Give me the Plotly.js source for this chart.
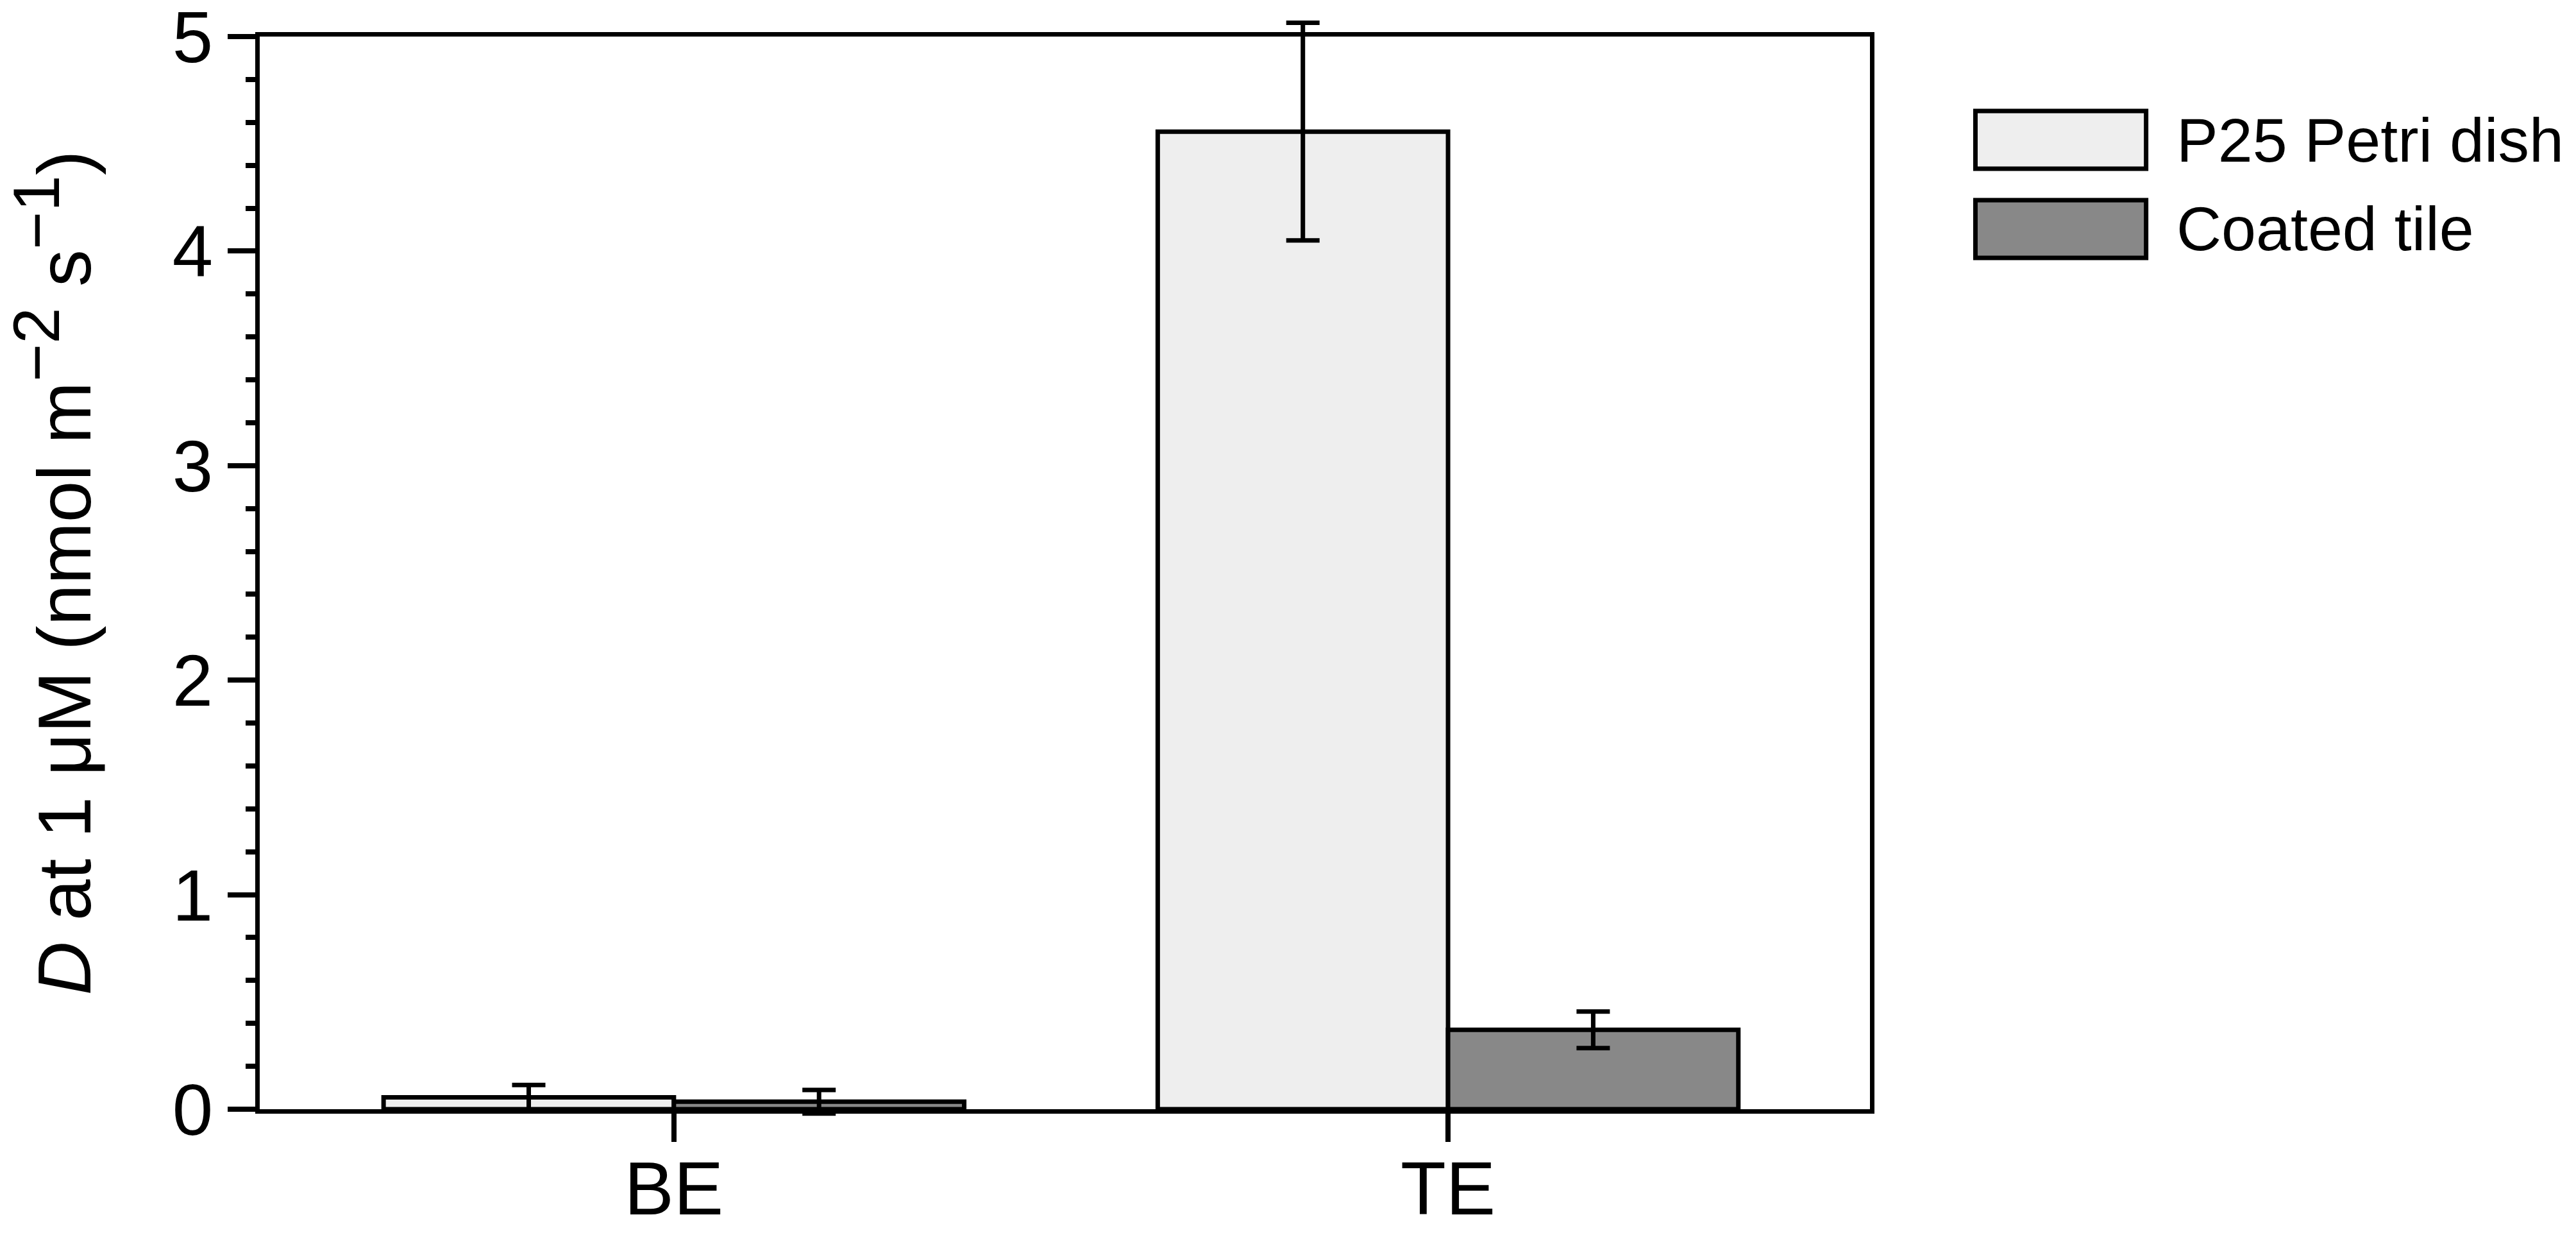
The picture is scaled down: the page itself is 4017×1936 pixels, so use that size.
<!DOCTYPE html>
<html>
<head>
<meta charset="utf-8">
<script src="https://cdn.plot.ly/plotly-3.0.1.min.js"></script>
<style>html,body{margin:0;padding:0;background:#fff;}#chart{width:4017px;height:1936px;}</style>
</head>
<body>
<div id="chart"></div>
<script>
// ---- data ----
const categories = ['BE', 'TE'];
const seriesNames = ['P25 Petri dish', 'Coated tile'];
const p25Values = [0.055, 4.557];
const p25Errors = [0.058, 0.507];
const tileValues = [0.035, 0.37];
const tileErrors = [0.055, 0.085];
const seriesColors = ['#eeeeee', '#888888'];
const yTickValues = [0, 1, 2, 3, 4, 5];
const yTickLabels = ['0', '1', '2', '3', '4', '5'];

const FONT = 'Liberation Sans, Arial, sans-serif';

// geometry: main axis occupies part of the plot height; a hidden twin axis with the
// same px-per-unit scale spans the full height so error bars may extend past the frame
const Y_MIN = 0, Y_MAX = 5;
const D0 = 17 / 1726, D1 = 1689 / 1726;
const unitFrac = (D1 - D0) / (Y_MAX - Y_MIN);
const Y2_RANGE = [Y_MIN - D0 / unitFrac, Y_MAX + (1 - D1) / unitFrac];

function barTrace(name, vals, color) {
  return {
    type: 'bar', name: name, x: categories, y: vals,
    marker: {color: color, line: {color: '#000', width: 7}},
    showlegend: false
  };
}
function errTrace(name, vals, errs) {
  return {
    type: 'scatter', mode: 'markers', name: name + ' error', x: categories, y: vals,
    yaxis: 'y2',
    marker: {size: 1, opacity: 0, color: '#000'},
    error_y: {type: 'data', array: errs, visible: true, color: '#000', thickness: 7, width: 26},
    cliponaxis: false, hoverinfo: 'skip',
    showlegend: false
  };
}

const data = [
  barTrace(seriesNames[0], p25Values, seriesColors[0]),
  barTrace(seriesNames[1], tileValues, seriesColors[1]),
  errTrace(seriesNames[0], p25Values, p25Errors),
  errTrace(seriesNames[1], tileValues, tileErrors)
];

// manual legend (large swatches like the reference)
const legendBoxes = [[0.9306, 0.8768], [0.8475, 0.7937]];
const shapes = [];
const annotations = [];
seriesNames.forEach((n, i) => {
  shapes.push({type: 'rect', xref: 'x domain', yref: 'y domain', x0: 1.0655, x1: 1.1715,
    y0: legendBoxes[i][1], y1: legendBoxes[i][0],
    fillcolor: seriesColors[i], line: {color: '#000', width: 7}});
  annotations.push({xref: 'x domain', yref: 'y domain', x: 1.1895, y: (legendBoxes[i][0] + legendBoxes[i][1]) / 2,
    xanchor: 'left', yanchor: 'middle', text: n, showarrow: false,
    font: {family: FONT, size: 97, color: '#000'}});
});

const layout = {
  width: 4017, height: 1936,
  margin: {l: 405, r: 1101, t: 20, b: 190},
  paper_bgcolor: '#fff', plot_bgcolor: 'rgba(0,0,0,0)',
  font: {family: FONT, size: 116, color: '#000'},
  barmode: 'group', bargap: 0.25, bargroupgap: 0,
  scattermode: 'group', scattergap: 0.25,
  showlegend: false,
  xaxis: {
    type: 'category', range: [-0.535, 1.545], anchor: 'y',
    showline: true, linecolor: '#000', linewidth: 7, mirror: true,
    ticks: 'outside', ticklen: 44, tickwidth: 8, tickcolor: '#000',
    ticklabelstandoff: -26, ticklabeloverflow: 'allow',
    showgrid: false, zeroline: false,
    tickfont: {family: FONT, size: 116, color: '#000'},
    fixedrange: true
  },
  yaxis: {
    domain: [D0, D1],
    range: [Y_MIN, Y_MAX], tickvals: yTickValues, ticktext: yTickLabels,
    showline: true, linecolor: '#000', linewidth: 7, mirror: true,
    ticks: 'outside', ticklen: 43, tickwidth: 8, tickcolor: '#000',
    ticklabeloverflow: 'allow',
    minor: {dtick: 0.2, ticks: 'outside', ticklen: 15, tickwidth: 8, tickcolor: '#000', showgrid: false},
    showgrid: false, zeroline: false,
    tickfont: {family: FONT, size: 114, color: '#000'},
    title: {text: '<i>D</i> at 1 μM (nmol m<sup><span style="font-size:125%">−2</span></sup> s<sup><span style="font-size:125%">−1</span></sup>)', standoff: 100,
      font: {family: FONT, size: 116, color: '#000'}},
    fixedrange: true
  },
  yaxis2: {
    domain: [0, 1], range: Y2_RANGE, anchor: 'x', visible: false,
    showgrid: false, zeroline: false, fixedrange: true
  },
  shapes: shapes,
  annotations: annotations
};

Plotly.newPlot('chart', data, layout, {displayModeBar: false, staticPlot: true});
</script>
</body>
</html>
